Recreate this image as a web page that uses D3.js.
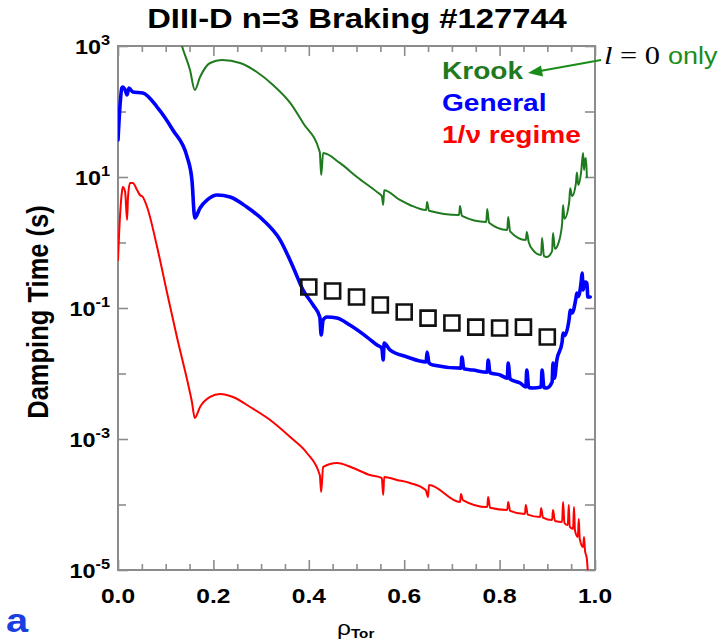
<!DOCTYPE html>
<html><head><meta charset="utf-8">
<script src="https://cdn.jsdelivr.net/npm/d3@7"></script>
<style>body{margin:0;background:#fff}svg{display:block}</style>
</head><body>
<svg id="c" width="722" height="642"></svg>
<script>
// ---------------- data ----------------
const xMajorTicks = [0, 0.2, 0.4, 0.6, 0.8, 1.0];
const xMinorTicks = [0.05,0.1,0.15,0.25,0.3,0.35,0.45,0.5,0.55,0.65,0.7,0.75,0.85,0.9,0.95];
const xTickLabels = ["0.0","0.2","0.4","0.6","0.8","1.0"];
const yMajorTicks = [1e3, 1e1, 1e-1, 1e-3, 1e-5];
const yTickExponents = ["3","1","-1","-3","-5"];
const yMinorTicks = [1e2, 1e0, 1e-2, 1e-4];

const krook = [
 [0.119,2500],[0.134,1000],[0.151,430],[0.161,213],[0.172,336],[0.193,550],[0.218,611],
 [0.256,550],[0.291,401],[0.325,254],[0.361,135],[0.388,66.7],[0.423,24.1],[0.426,10.7],
 [0.430,23.2],[0.465,16.4],[0.501,10.0],[0.543,5.9],[0.553,5.13],[0.556,3.74],[0.558,6.3],
 [0.591,4.46],[0.612,3.74],
 [0.646,3.13],[0.648,4.15],[0.652,3.05],
 [0.715,2.63],[0.717,3.61],[0.721,2.55],
 [0.772,2.06],[0.774,3.24],[0.778,2.0],
 [0.816,1.55],[0.818,2.45],[0.822,1.48],
 [0.855,1.09],[0.857,1.45],[0.861,1.02],
 [0.870,0.768],
 [0.887,0.644],[0.889,1.17],[0.893,0.62],
 [0.899,0.60],
 [0.910,0.74],[0.912,1.40],[0.916,0.80],
 [0.922,0.916],
 [0.931,1.9],[0.933,3.74],[0.936,2.3],
 [0.946,4.2],[0.948,6.75],[0.952,5.1],
 [0.960,8.0],[0.962,11.7],[0.965,7.55],
 [0.971,12.0],[0.975,23.2],[0.977,12.8],
 [0.979,18.2],[0.981,19.5],[0.983,10.0]
];
const general = [
 [0.000,36.7],[0.004,117],[0.008,228],[0.010,237],[0.015,213],[0.019,179],[0.023,228],
 [0.031,199],[0.052,192],[0.082,117],[0.115,52.2],[0.145,20.2],[0.155,9.0],[0.161,2.37],
 [0.172,3.36],[0.187,4.46],[0.208,5.31],[0.235,4.95],[0.270,3.48],[0.304,2.21],[0.340,1.09],
 [0.367,0.423],[0.388,0.188],[0.409,0.111],[0.423,0.073],[0.426,0.0388],[0.430,0.0656],
 [0.438,0.073],[0.459,0.0704],[0.486,0.055],[0.522,0.036],[0.543,0.0272],[0.553,0.0245],
 [0.556,0.0161],[0.558,0.0292],[0.570,0.0229],[0.606,0.0179],
 [0.646,0.015],[0.648,0.0213],[0.652,0.0145],
 [0.660,0.0135],
 [0.719,0.0121],[0.721,0.0179],[0.725,0.0118],
 [0.744,0.0113],
 [0.774,0.0105],[0.776,0.0161],[0.780,0.0102],
 [0.801,0.0095],
 [0.816,0.0085],[0.818,0.0144],[0.822,0.0082],
 [0.843,0.00716],
 [0.855,0.00622],[0.857,0.0113],[0.861,0.0061],
 [0.870,0.0060],
 [0.887,0.00622],[0.889,0.0113],[0.893,0.0061],
 [0.899,0.0060],
 [0.910,0.0074],[0.912,0.0144],[0.915,0.0085],
 [0.920,0.0161],
 [0.931,0.030],[0.933,0.0415],[0.936,0.038],
 [0.946,0.070],[0.948,0.0931],[0.952,0.0839],
 [0.960,0.14],[0.962,0.169],[0.965,0.15],
 [0.971,0.25],[0.973,0.342],[0.975,0.188],
 [0.979,0.249],[0.983,0.241],[0.985,0.147],[0.990,0.147]
];
const oneOverNu = [
 [0.000,0.54],[0.002,1.21],[0.008,5.7],[0.010,7.03],[0.015,5.9],[0.019,2.21],[0.021,4.95],
 [0.025,8.09],[0.031,8.09],[0.040,6.33],[0.046,5.31],[0.052,4.95],[0.061,3.48],[0.082,0.854],
 [0.103,0.169],[0.124,0.0348],[0.145,0.00796],[0.155,0.00367],[0.161,0.00209],[0.172,0.00308],
 [0.193,0.00438],[0.214,0.00486],[0.241,0.00438],[0.277,0.00308],[0.319,0.00195],
 [0.361,0.00107],[0.396,0.000612],[0.423,0.000282],[0.426,0.000155],[0.430,0.000374],
 [0.459,0.000431],[0.493,0.000361],[0.528,0.000282],[0.553,0.000254],[0.556,0.00014],
 [0.558,0.000263],[0.585,0.000237],[0.612,0.000213],
 [0.645,0.000166],[0.650,0.00013],[0.652,0.000199],
 [0.717,0.000109],[0.719,0.000145],[0.723,0.000117],
 [0.774,9.16e-5],[0.776,0.00013],[0.780,8.9e-5],
 [0.816,8.24e-5],[0.818,0.000109],[0.822,8.0e-5],
 [0.853,7.16e-5],[0.855,9.82e-5],[0.859,7.0e-5],
 [0.885,6.44e-5],[0.887,8.85e-5],[0.891,6.3e-5],
 [0.910,5.79e-5],[0.912,8.24e-5],[0.916,5.6e-5],
 [0.931,5.4e-5],[0.933,0.000109],[0.936,5.2e-5],
 [0.943,4.86e-5],[0.945,9.82e-5],[0.947,4.6e-5],
 [0.954,4.23e-5],[0.956,9.16e-5],[0.958,4.0e-5],
 [0.964,3.19e-5],[0.966,6.0e-5],[0.968,3.0e-5],
 [0.975,2.24e-5],[0.977,3.19e-5],[0.979,2.0e-5],
 [0.983,1.47e-5],[0.985,9.3e-6]
];
const measRho = [0.40,0.45,0.50,0.55,0.60,0.65,0.70,0.75,0.80,0.85,0.90];
const measTau = [0.209,0.182,0.147,0.111,0.087,0.070,0.059,0.051,0.0495,0.051,0.036];

const seriesNames = ["Krook","General","1/\u03bd regime"];
const seriesColors = ["#1f7a1f","#0000ff","#ff0000"];

// ---------------- layout ----------------
const X0=118, X1=595, Y0=46, Y1=570, SX=1.17;
const FONT = "'Liberation Sans', Arial, Helvetica, sans-serif";
const svg = d3.select("#c");
svg.append("rect").attr("width",722).attr("height",642).attr("fill","#fff");

const x = d3.scaleLinear().domain([0,1]).range([X0,X1]);
const y = d3.scaleLog().domain([1e-5,1e3]).range([Y1,Y0]);

function txt(px, py, anchor, size, weight, fill, family){
  const g = svg.append("g").attr("transform",`translate(${px},${py}) scale(${SX},1)`);
  return g.append("text").attr("x",0).attr("y",0).attr("text-anchor",anchor)
    .attr("font-size",size).attr("font-weight",weight).attr("fill",fill)
    .attr("font-family",family||FONT);
}

// clip
svg.append("clipPath").attr("id","clip").append("rect")
  .attr("x",X0).attr("y",Y0).attr("width",X1-X0).attr("height",Y1-Y0);

// axes ticks (inward)
const axisColor = "#8c8c8c";
function styleAxis(g){ g.select(".domain").remove(); g.selectAll("line").attr("stroke",axisColor).attr("stroke-width",1.6); }
svg.append("g").attr("transform",`translate(0,${Y1})`).call(d3.axisBottom(x).tickValues(xMajorTicks).tickSize(-10).tickFormat("")).call(styleAxis);
svg.append("g").attr("transform",`translate(0,${Y1})`).call(d3.axisBottom(x).tickValues(xMinorTicks).tickSize(-6).tickFormat("")).call(styleAxis);
svg.append("g").attr("transform",`translate(0,${Y0})`).call(d3.axisTop(x).tickValues(xMajorTicks).tickSize(-10).tickFormat("")).call(styleAxis);
svg.append("g").attr("transform",`translate(0,${Y0})`).call(d3.axisTop(x).tickValues(xMinorTicks).tickSize(-6).tickFormat("")).call(styleAxis);
svg.append("g").attr("transform",`translate(${X0},0)`).call(d3.axisLeft(y).tickValues(yMajorTicks).tickSize(-10).tickFormat("")).call(styleAxis);
svg.append("g").attr("transform",`translate(${X0},0)`).call(d3.axisLeft(y).tickValues(yMinorTicks).tickSize(-8).tickFormat("")).call(styleAxis);
svg.append("g").attr("transform",`translate(${X1},0)`).call(d3.axisRight(y).tickValues(yMajorTicks).tickSize(-10).tickFormat("")).call(styleAxis);
svg.append("g").attr("transform",`translate(${X1},0)`).call(d3.axisRight(y).tickValues(yMinorTicks).tickSize(-10).tickFormat("")).call(styleAxis);

// frame
svg.append("rect").attr("x",X0).attr("y",Y0).attr("width",X1-X0).attr("height",Y1-Y0)
  .attr("fill","none").attr("stroke",axisColor).attr("stroke-width",2);

// tick labels
xMajorTicks.forEach((v,i)=>{ txt(x(v),603,"middle",21,"bold","#000").text(xTickLabels[i]); });
yMajorTicks.forEach((v,i)=>{
  const t = txt(110, y(v)+8, "end", 20, "bold", "#000");
  t.append("tspan").text("10");
  t.append("tspan").attr("dy",-9).attr("font-size",14).text(yTickExponents[i]);
});

// axis titles
svg.append("g").attr("transform",`translate(48,312) scale(${SX},1) rotate(-90)`)
  .append("text").attr("text-anchor","middle").attr("font-size",25.5).attr("font-weight","bold")
  .attr("font-family",FONT).text("Damping Time (s)");
{
  const t = txt(337,635,"start",21,"normal","#000");
  t.append("tspan").text("\u03c1");
  t.append("tspan").attr("dy",3).attr("font-size",13).attr("font-weight","bold").text("Tor");
}
// title
txt(357,28,"middle",28,"bold","#000").text("DIII-D n=3 Braking #127744");

// lines
const line = d3.line().x(d=>x(d[0])).y(d=>y(d[1])).curve(d3.curveMonotoneX);
const plot = svg.append("g").attr("clip-path","url(#clip)");
[[krook,2.0],[general,3.6],[oneOverNu,2.0]].forEach(([data,w],i)=>{
  plot.append("path").datum(data).attr("d",line).attr("fill","none")
    .attr("stroke",seriesColors[i]).attr("stroke-width",w)
    .attr("stroke-linejoin","round").attr("stroke-linecap","round");
});

// measured squares
plot.selectAll("path.sq").data(measRho.map((r,i)=>[r,measTau[i]])).enter().append("path")
  .attr("class","sq")
  .attr("d",d3.symbol().type(d3.symbolSquare).size(15*15))
  .attr("transform",d=>`translate(${x(d[0])},${y(d[1])})`)
  .attr("fill","none").attr("stroke","#111").attr("stroke-width",2.6);

// legend
const legendY = [79,111,143];
seriesNames.forEach((n,i)=>{ txt(442,legendY[i],"start",24,"bold",seriesColors[i]).text(n); });

// annotation
const annGreen = "#1a8c1a";
svg.append("line").attr("x1",601).attr("y1",60).attr("x2",540).attr("y2",71)
  .attr("stroke",annGreen).attr("stroke-width",2);
svg.append("path").attr("d","M528,73 L541,65.5 L543,76.5 Z").attr("fill",annGreen);
{
  const t = txt(604,64,"start",26,"normal","#000","'Liberation Serif','Times New Roman',serif");
  t.append("tspan").attr("font-style","italic").text("l");
  t.append("tspan").text(" = 0");
}
txt(668,64,"start",23,"normal",annGreen).text("only");

// panel letter
txt(6,632,"start",34,"bold","#1a3fe0").text("a");
</script>
</body></html>
